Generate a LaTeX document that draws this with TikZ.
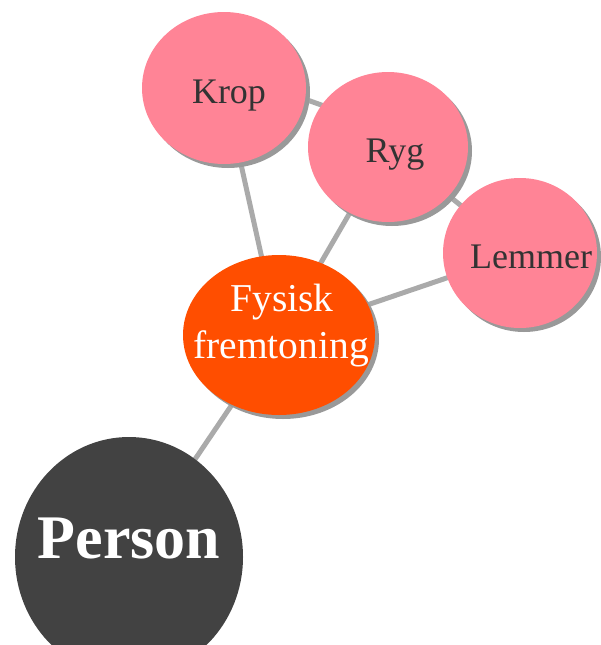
\documentclass[tikz,border=0pt]{standalone}
\usepackage{fontspec}
\setmainfont{Liberation Serif}
\usetikzlibrary{shapes.geometric,shadows,backgrounds}
\definecolor{bubblepink}{HTML}{FF8496}
\definecolor{bubbleorange}{HTML}{FF4E00}
\definecolor{bubbledark}{HTML}{424242}
\definecolor{linkgray}{HTML}{AAAAAA}
\definecolor{shadowgray}{HTML}{999999}
\definecolor{labeldark}{HTML}{333333}
\tikzset{
  bubble/.style={ellipse, inner sep=0pt, draw=none},
  shadowed/.style={drop shadow={shadow xshift=4pt, shadow yshift=-4pt, fill=shadowgray, opacity=1}},
  leaf/.style={bubble, shadowed, fill=bubblepink},
  link/.style={draw=linkgray, line width=5pt},
  leaftext/.style={anchor=base, inner sep=0pt, text=labeldark, font=\fontsize{36}{43}\selectfont},
  midtext/.style={anchor=base, inner sep=0pt, text=white, font=\fontsize{39.5}{47}\selectfont},
  roottext/.style={anchor=base, inner sep=0pt, text=white, font=\fontsize{62}{72}\selectfont\bfseries}
}
\begin{document}
\begin{tikzpicture}[x=1pt,y=-1pt]
  \useasboundingbox (0,0) rectangle (601,645);

  % bubbles
  \node[leaf, minimum width=164pt, minimum height=152pt] (krop) at (224,88) {};
  \node[leaf, minimum width=160pt, minimum height=150pt] (ryg) at (388,147) {};
  \node[leaf, minimum width=154pt, minimum height=150pt] (lemmer) at (520,253) {};
  \node[bubble, shadowed, fill=bubbleorange, minimum width=192pt, minimum height=160pt] (fysisk) at (279,335) {};
  \node[bubble, fill=bubbledark, minimum width=228pt, minimum height=240pt] (person) at (129,557) {};

  % labels
  \node[leaftext] (kroplabel) at (229,103) {Krop};
  \node[leaftext] (ryglabel) at (395,162) {Ryg};
  \node[leaftext] (lemmerlabel) at (531,268) {Lemmer};
  \node[midtext] (fysisklabel) at (282,311) {Fysisk};
  \node[midtext] (fremtoninglabel) at (281,358) {fremtoning};
  \node[roottext] (personlabel) at (129,558) {Person};

  % connectors, behind the bubbles
  \begin{scope}[on background layer]
    \draw[link] (person.center) -- (fysisk.center);
    \draw[link] (fysisk.center) -- (krop.center);
    \draw[link] (fysisk.center) -- (ryg.center);
    \draw[link] (fysisk.center) -- (lemmer.center);
    \draw[link] ([yshift=18pt]krop.center) -- ([yshift=18pt]ryg.center);
    \draw[link] (ryg.center) -- (lemmer.center);
  \end{scope}
\end{tikzpicture}
\end{document}
